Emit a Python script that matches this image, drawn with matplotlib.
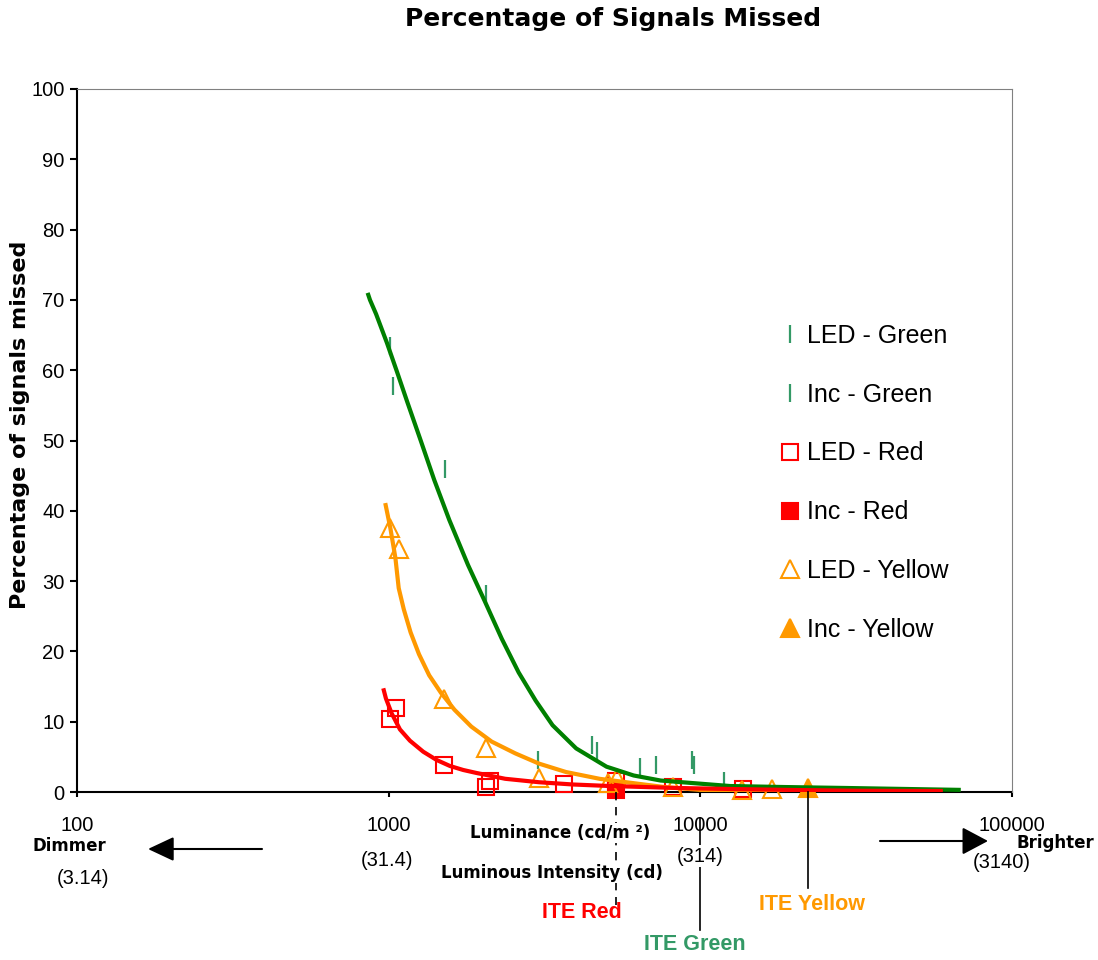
import numpy as np
import matplotlib
matplotlib.use("Agg")
import matplotlib.pyplot as plt
from matplotlib import transforms
from matplotlib.lines import Line2D

plt.rcParams['font.family'] = ['Liberation Sans', 'DejaVu Sans']

# ---------------- data ----------------
green_fit_x = [856, 871, 911, 987, 1063, 1147, 1267, 1400, 1565, 1797, 2036, 2306, 2613,
               2962, 3356, 3996, 5001, 6109, 7460, 9574, 12450, 18400, 29500, 68500]
green_fit_y = [71.0, 70.0, 68.0, 63.9, 59.8, 55.5, 50.0, 44.4, 38.7, 32.3, 27.1, 21.8, 17.0,
               13.0, 9.5, 6.2, 3.6, 2.35, 1.63, 1.25, 0.85, 0.71, 0.57, 0.3]

yellow_fit_x = [975, 1012, 1051, 1077, 1118, 1176, 1251, 1349, 1472, 1626, 1842, 2140,
                2550, 3035, 3708, 4760, 6400, 7690, 9970, 20400]
yellow_fit_y = [41.1, 37.6, 33.3, 29.0, 26.0, 22.7, 19.6, 16.6, 14.1, 11.7, 9.3, 7.17,
                5.49, 4.04, 2.84, 1.87, 1.14, 0.7, 0.3, 0.14]

red_fit_x = [961, 980, 1022, 1087, 1170, 1291, 1426, 1573, 1735, 1916, 2365, 3035,
             3895, 5001, 8248, 12450, 20400, 32500, 60000]
red_fit_y = [14.75, 13.3, 11.2, 8.9, 7.3, 5.73, 4.55, 3.70, 3.13, 2.70, 1.88, 1.39,
             1.07, 0.87, 0.58, 0.43, 0.28, 0.18, 0.14]

led_green_x = [1012, 1516, 2052, 4480, 6402, 9420]
led_green_y = [63.4, 45.9, 28.2, 6.7, 3.6, 4.5]
inc_green_x = [1029, 3020, 4648, 7203, 9560, 11904]
inc_green_y = [57.7, 4.5, 5.8, 3.9, 3.8, 1.6]

led_red_x = [1007, 1059, 1504, 2046, 2114, 3659, 5360, 8185, 13730]
led_red_y = [10.4, 11.9, 3.9, 0.77, 1.55, 1.1, 1.56, 0.75, 0.38]
inc_red_x = [5360]
inc_red_y = [0.35]

led_yellow_x = [1012, 1077, 1501, 2052, 3035, 5053, 5400, 8170, 13600, 16980]
led_yellow_y = [37.5, 34.6, 13.2, 6.2, 2.06, 1.28, 2.0, 0.71, 0.28, 0.43]
inc_yellow_x = [22180]
inc_yellow_y = [0.5]

x_ticks = [100, 1000, 10000, 100000]
x_tick_labels = ['100', '1000', '10000', '100000']
intensity_labels = ['(3.14)', '(31.4)', '(314)', '(3140)']
y_ticks = list(range(0, 101, 10))

ite_names = ['ITE Red', 'ITE Green', 'ITE Yellow']
ite_values = [5360, 10000, 22180]

# ---------------- colours ----------------
C_GREEN_LINE = '#008000'
C_GREEN_MK = '#339966'
C_RED = '#FF0000'
C_ORANGE = '#FF9900'

W, H = 1098, 960
fig = plt.figure(figsize=(W / 100, H / 100), dpi=100)
fig.patch.set_facecolor('white')


def fx(px):
    return px / W


def fy(py):
    return 1 - py / H


ax = fig.add_axes([fx(77), fy(792), fx(1012) - fx(77), fy(89) - fy(792)])
ax.set_xscale('log')
ax.set_xlim(100, 100000)
ax.set_ylim(0, 100)

ms_sq = 12
mew = 1.5
ax.plot(led_green_x, led_green_y, ls='none', marker='|', ms=13, mew=1.6, color=C_GREEN_MK,
        label='LED - Green', clip_on=False, zorder=3)
ax.plot(inc_green_x, inc_green_y, ls='none', marker='|', ms=13, mew=1.6, color=C_GREEN_MK,
        label='Inc - Green', clip_on=False, zorder=3)
ax.plot(led_red_x, led_red_y, ls='none', marker='s', ms=ms_sq, mew=mew, mfc='none', mec=C_RED,
        label='LED - Red', clip_on=False, zorder=3)
ax.plot(inc_red_x, inc_red_y, ls='none', marker='s', ms=ms_sq, mew=mew, mfc=C_RED, mec=C_RED,
        label='Inc - Red', clip_on=False, zorder=3)
ax.plot(led_yellow_x, led_yellow_y, ls='none', marker='^', ms=ms_sq + 1, mew=mew, mfc='none',
        mec=C_ORANGE, label='LED - Yellow', clip_on=False, zorder=3)
ax.plot(inc_yellow_x, inc_yellow_y, ls='none', marker='^', ms=ms_sq + 1, mew=mew, mfc=C_ORANGE,
        mec=C_ORANGE, label='Inc - Yellow', clip_on=False, zorder=3)

ax.plot(green_fit_x, green_fit_y, color=C_GREEN_LINE, lw=3, zorder=4, solid_capstyle='butt',
        solid_joinstyle='round')
ax.plot(yellow_fit_x, yellow_fit_y, color=C_ORANGE, lw=3, zorder=4, solid_capstyle='butt',
        solid_joinstyle='round')
ax.plot(red_fit_x, red_fit_y, color=C_RED, lw=3, zorder=4, solid_capstyle='butt',
        solid_joinstyle='round')

# axes styling
for s in ['left', 'bottom']:
    ax.spines[s].set_linewidth(1.5)
    ax.spines[s].set_color('black')
for s in ['top', 'right']:
    ax.spines[s].set_linewidth(0.8)
    ax.spines[s].set_color('#808080')
ax.spines['bottom'].set_zorder(2)

ax.set_yticks(y_ticks)
ax.set_xticks(x_ticks)
ax.set_xticklabels(x_tick_labels)
ax.xaxis.set_minor_locator(matplotlib.ticker.NullLocator())
ax.tick_params(axis='y', direction='out', length=5, width=1.5, pad=4, labelsize=14.5)
ax.tick_params(axis='x', direction='out', length=3.5, width=1.5, pad=13.5, labelsize=14.5)

ax.set_ylabel('Percentage of signals missed', family='DejaVu Sans', fontweight='bold',
              fontsize=16)
ax.yaxis.set_label_coords((30 - 77) / 935, (792 - 425) / 703)

fig.text(fx(613), fy(19), 'Percentage of Signals Missed', family='DejaVu Sans',
         fontweight='bold', fontsize=18, ha='center', va='center')

# legend
leg = ax.legend(loc='upper left', bbox_to_anchor=(fx(781), fy(324)), bbox_transform=fig.transFigure,
                frameon=False, fontsize=18, handlelength=0.7, handletextpad=0.34,
                labelspacing=1.39, borderpad=0, borderaxespad=0, numpoints=1)

# luminous intensity labels under the tick labels
int_pos = [(83, 878), (387, 860), (700, 856), (1002, 862)]
for (px, py), lab in zip(int_pos, intensity_labels):
    t = fig.text(fx(px), fy(py), lab, fontsize=14.5, ha='center', va='center', zorder=5)
    if lab == '(314)':
        t.set_bbox(dict(facecolor='white', edgecolor='none', pad=1))

small = dict(family='DejaVu Sans', fontweight='bold', fontsize=12, ha='center', va='center', zorder=5)
fig.text(fx(69), fy(846), 'Dimmer', **small)
fig.text(fx(1055), fy(843), 'Brighter', **small)
fig.text(fx(560), fy(833), 'Luminance (cd/m ²)',
         bbox=dict(facecolor='white', edgecolor='none', pad=0.5), **small)
fig.text(fx(552), fy(873), 'Luminous Intensity (cd)',
         bbox=dict(facecolor='white', edgecolor='none', pad=0.5), **small)

# arrows
ax.annotate('', xy=(148, H - 849), xytext=(262, H - 849), xycoords='figure pixels',
            textcoords='figure pixels', annotation_clip=False,
            arrowprops=dict(arrowstyle='-|>,head_length=1.6,head_width=0.75', lw=1.5,
                            color='black', mutation_scale=10, shrinkA=0, shrinkB=0))
ax.annotate('', xy=(988, H - 841), xytext=(880, H - 841), xycoords='figure pixels',
            textcoords='figure pixels', annotation_clip=False,
            arrowprops=dict(arrowstyle='-|>,head_length=1.6,head_width=0.85', lw=1.5,
                            color='black', mutation_scale=10, shrinkA=0, shrinkB=0))

# ITE reference lines
blend = transforms.blended_transform_factory(ax.transData, fig.transFigure)
ite_styles = [
    dict(ls=(0, (5, 4)), y0=792, y1=905, color=C_RED, lab_xy=(582, 913)),
    dict(ls='-', y0=818, y1=930, color=C_GREEN_MK, lab_xy=(695, 944)),
    dict(ls='-', y0=792, y1=888, color=C_ORANGE, lab_xy=(812, 905)),
]
for name, val, st in zip(ite_names, ite_values, ite_styles):
    ln = Line2D([val, val], [fy(st['y0']), fy(st['y1'])], transform=blend, color='black',
                lw=1.2, ls=st['ls'], zorder=1)
    fig.add_artist(ln)
    fig.text(fx(st['lab_xy'][0]), fy(st['lab_xy'][1]), name, color=st['color'],
             fontweight='bold', fontsize=15.5, ha='center', va='center', zorder=5)

fig.savefig('out.png', dpi=100)
